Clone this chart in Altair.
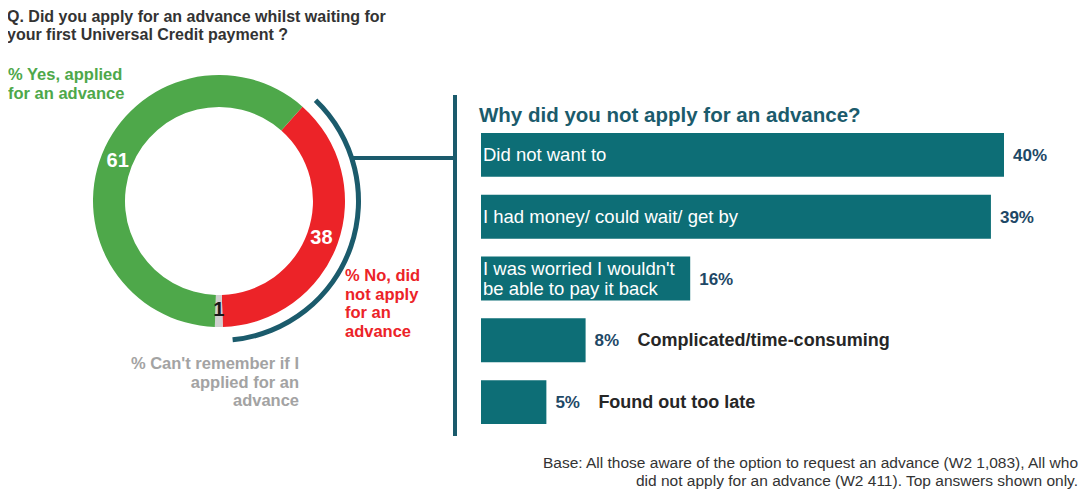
import math
import altair as alt
import pandas as pd

# ---------------- data ----------------
donut_cats = ["% No, did not apply for an advance", "% Can't remember if I applied for an advance", "% Yes, applied for an advance"]
donut_vals = [38, 1, 61]
donut_order = [0, 1, 2]
donut_colors = ["#ec2328", "#cfcfcf", "#4ea84a"]
donut_label_colors = ["#ffffff", "#1a1a1a", "#ffffff"]

bar_cats = [
    "Did not want to",
    "I had money/ could wait/ get by",
    "I was worried I wouldn't be able to pay it back",
    "Complicated/time-consuming",
    "Found out too late",
]
bar_vals = [40, 39, 16, 8, 5]
inside_labels = ["Did not want to", "I had money/ could wait/ get by",
                 "I was worried I wouldn't\nbe able to pay it back", "", ""]
outside_labels = ["", "", "", "Complicated/time-consuming", "Found out too late"]

# ---------------- styling / layout ----------------
ARIAL = "Liberation Sans, Arial, sans-serif"
TEAL = "#0d6e76"
DARK_TEAL = "#1b5b6c"
M = 8  # page margin; positions below are page pixels


def P(v):
    return v - M


CX, CY = 219, 201
T0 = math.radians(41.5)

ddf = pd.DataFrame({"cat": donut_cats, "val": donut_vals, "ord": donut_order,
                    "lc": donut_label_colors})
bdf = pd.DataFrame({"cat": bar_cats, "pct": bar_vals, "ins": inside_labels,
                    "outs": outside_labels})

theta_enc = alt.Theta("val:Q", stack=True, scale=alt.Scale(range=[T0, T0 + 2 * math.pi]))

donut = alt.Chart(ddf).mark_arc(innerRadius=94, outerRadius=126).encode(
    theta=theta_enc,
    color=alt.Color("cat:N", scale=alt.Scale(domain=donut_cats, range=donut_colors), legend=None),
    order=alt.Order("ord:Q"),
    x=alt.value(P(CX)), y=alt.value(P(CY)),
)

donut_text = alt.Chart(ddf).mark_text(
    font=ARIAL, fontSize=20, fontWeight="bold", baseline="middle", align="center"
).encode(
    theta=theta_enc,
    radius=alt.value(109),
    detail="cat:N",
    order=alt.Order("ord:Q"),
    fill=alt.Fill("lc:N", scale=None),
    text=alt.Text("val:Q"),
    x=alt.value(P(CX)), y=alt.value(P(CY)),
)

bracket = alt.Chart(alt.Data(values=[{}])).mark_arc(
    innerRadius=137, outerRadius=142, theta=math.radians(43.8), theta2=math.radians(174.4),
    color=DARK_TEAL,
).encode(x=alt.value(P(CX)), y=alt.value(P(CY)))

connector = alt.Chart(alt.Data(values=[{}])).mark_rule(color=DARK_TEAL, strokeWidth=4).encode(
    x=alt.value(P(352)), x2=alt.value(P(457)), y=alt.value(P(158))
)
vline = alt.Chart(alt.Data(values=[{}])).mark_rule(color=DARK_TEAL, strokeWidth=4).encode(
    x=alt.value(P(455)), y=alt.value(P(95)), y2=alt.value(P(436))
)

xs = alt.Scale(domain=[0, 40], range=[P(481), P(1004)], nice=False, zero=True)
ys = alt.Scale(domain=bar_cats, range=[P(133), P(424)], paddingInner=0.29, paddingOuter=0)
X = alt.X("pct:Q", scale=xs, axis=None)
Y = alt.Y("cat:N", scale=ys, sort=bar_cats, axis=None)

bars = alt.Chart(bdf).mark_bar(color=TEAL).encode(x=X, y=Y)

inside_one = alt.Chart(bdf).transform_filter(
    "datum.ins != '' && indexof(datum.ins, '\\n') < 0"
).mark_text(
    align="left", baseline="middle", color="white", font=ARIAL, fontSize=18.5,
).encode(x=alt.value(P(483)), y=Y, text="ins:N")

inside_two = alt.Chart(bdf).transform_filter(
    "indexof(datum.ins, '\\n') >= 0"
).mark_text(
    align="left", baseline="middle", color="white", font=ARIAL, fontSize=18.5,
    lineBreak="\n", lineHeight=20, dy=-10,
).encode(x=alt.value(P(483)), y=Y, text="ins:N")

pct_text = alt.Chart(bdf).transform_calculate(lbl="datum.pct + '%'").mark_text(
    align="left", baseline="middle", dx=9, dy=1, color="#1e4866", font=ARIAL,
    fontSize=17, fontWeight="bold",
).encode(x=X, y=Y, text="lbl:N")

outside = alt.Chart(bdf).mark_text(
    align="left", baseline="middle", dx=52, dy=1, color="#262626", font=ARIAL,
    fontSize=18, fontWeight="bold",
).encode(x=X, y=Y, text="outs:N")


def ann(lines, x, y, align="left", **kw):
    return alt.Chart(alt.Data(values=[{}])).mark_text(
        text=lines, align=align, baseline="alphabetic", **kw
    ).encode(x=alt.value(P(x)), y=alt.value(P(y)))


title = ann(["Q. Did you apply for an advance whilst waiting for",
             "your first Universal Credit payment ?"], 7, 22,
            font=ARIAL, fontSize=16, fontWeight="bold", color="#333333", lineHeight=18)
yes_lbl = ann(["% Yes, applied", "for an advance"], 8, 80,
              font=ARIAL, fontSize=16.5, fontWeight="bold", color="#4ea84a", lineHeight=18.5)
no_lbl = ann(["% No, did", "not apply", "for an", "advance"], 345, 281,
             font=ARIAL, fontSize=16.5, fontWeight="bold", color="#ec2328", lineHeight=18.5)
cant_lbl = ann(["% Can't remember if I", "applied for an", "advance"], 299, 369,
               align="right", font=ARIAL, fontSize=16.5, fontWeight="bold",
               color="#a3a3a3", lineHeight=18.5)
bar_title = ann(["Why did you not apply for an advance?"], 479, 122,
                font=ARIAL, fontSize=20.5, fontWeight="bold", color=DARK_TEAL)
foot = ann(["Base:  All those aware of the option to request an advance  (W2 1,083), All who",
            "did not apply for an advance  (W2 411). Top answers shown only."], 1078, 468,
           align="right", font=ARIAL, fontSize=15.5, color="#333333", lineHeight=18)

chart = alt.layer(
    donut, donut_text, bracket, connector, vline, bars, inside_one, inside_two, pct_text, outside,
    title, yes_lbl, no_lbl, cant_lbl, bar_title, foot,
).properties(width=1072, height=481, padding=0, autosize="none").configure_view(stroke=None)

chart.save("out.html", embed_options={"renderer": "svg", "actions": False})
